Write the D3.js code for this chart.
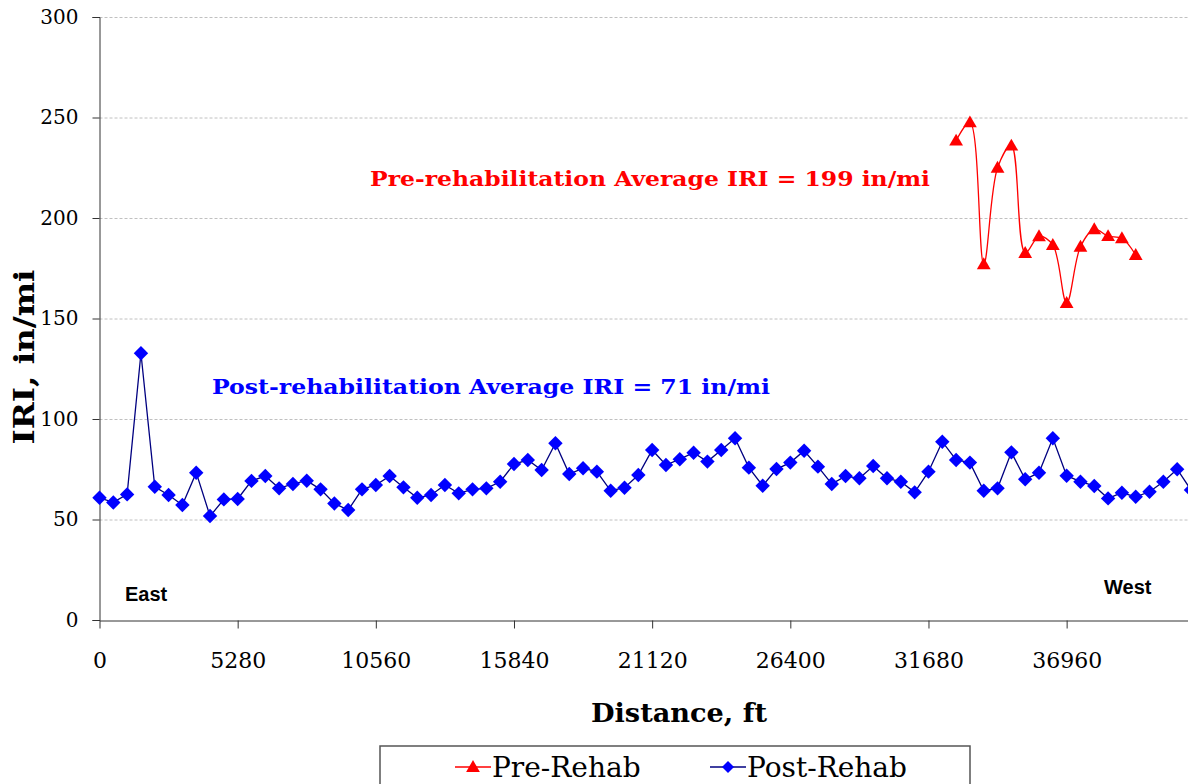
<!DOCTYPE html>
<html><head><meta charset="utf-8">
<script src="https://cdn.jsdelivr.net/npm/d3@7"></script>
<style>body{margin:0;background:#fff}svg{display:block}</style>
</head><body>
<script>
const spacing = 528; // ft between readings
const postRehab = [60.8,58.5,62.5,132.7,66.3,62.2,57.2,73.3,51.7,60,60.2,69.2,71.6,65.5,67.7,69.3,65,58,54.7,65,
  67.2,71.6,66,60.8,62.2,67.2,63,65,65.5,68.8,77.6,79.6,74.6,87.9,72.6,75.5,73.8,64.3,65.8,72.1,
  84.6,77.1,80,83.2,78.8,84.6,90.4,75.8,66.8,75.1,78.3,84.2,76.3,67.7,71.6,70.5,76.6,70.5,68.8,63.5,
  73.8,88.7,79.6,78.3,64.3,65.5,83.4,70,73.3,90.4,71.8,68.8,66.7,60.5,63.3,61.3,63.8,68.8,75,64.7];
const preStartIndex = 62;
const preRehab = [238.5,247.6,177,225,236,182.6,190.9,186.6,157.7,185.7,194.4,191,189.9,181.6];
const xTicks = [0,5280,10560,15840,21120,26400,31680,36960];
const yTicks = [0,50,100,150,200,250,300];

const postData = postRehab.map((v,i)=>({x:i*spacing,y:v}));
const preData = preRehab.map((v,i)=>({x:(preStartIndex+i)*spacing,y:v}));

const W=1188,H=784;
const svg=d3.select("body").append("svg").attr("width",W).attr("height",H);
const x=d3.scaleLinear().domain([0,42240]).range([99.5,1204.8]);
const y=d3.scaleLinear().domain([0,300]).range([620,17]);
const serif="'DejaVu Serif', serif";

// gridlines
svg.append("g").selectAll("line").data(yTicks.filter(d=>d>0)).join("line")
  .attr("x1",99.5).attr("x2",W).attr("y1",d=>y(d)+0.5).attr("y2",d=>y(d)+0.5)
  .attr("stroke","#c0c0c0").attr("stroke-dasharray","3,2").attr("stroke-width",1);

// y axis
const yAx=svg.append("g").attr("transform","translate(99.5,0)")
  .call(d3.axisLeft(y).tickValues(yTicks).tickSize(7).tickPadding(14));
yAx.selectAll("text").attr("font-family",serif).attr("font-size",20).attr("fill","#000");
yAx.selectAll("line,path").attr("stroke","#333");

// x axis
const xAx=svg.append("g").attr("transform","translate(0,620.5)")
  .call(d3.axisBottom(x).tickValues(xTicks).tickFormat(d3.format("d")).tickSize(8).tickPadding(24).tickSizeOuter(0));
xAx.selectAll("text").attr("font-family",serif).attr("font-size",22).attr("fill","#000");
xAx.selectAll("line,path").attr("stroke","#333");

// lines
svg.append("path").datum(postData)
  .attr("d",d3.line().x(d=>x(d.x)).y(d=>y(d.y)))
  .attr("fill","none").attr("stroke","#000080").attr("stroke-width",1.3);
svg.append("path").datum(preData)
  .attr("d",d3.line().x(d=>x(d.x)).y(d=>y(d.y)).curve(d3.curveCatmullRom.alpha(0.5)))
  .attr("fill","none").attr("stroke","#ff0000").attr("stroke-width",1.3);

const diamond=d3.symbol().type(d3.symbolSquare).size(104);
const tri=d3.symbol().type(d3.symbolTriangle).size(82);
svg.append("g").selectAll("path").data(postData).join("path")
  .attr("d",diamond).attr("transform",d=>`translate(${x(d.x)},${y(d.y)}) rotate(45)`).attr("fill","#0000ff");
svg.append("g").selectAll("path").data(preData).join("path")
  .attr("d",tri).attr("transform",d=>`translate(${x(d.x)},${y(d.y)+1})`).attr("fill","#ff0000");

// annotations
svg.append("text").attr("x",370).attr("y",186).attr("font-family",serif).attr("font-weight","bold")
  .attr("font-size",21).attr("fill","#ff0000").attr("textLength",560).attr("lengthAdjust","spacingAndGlyphs")
  .text("Pre-rehabilitation Average IRI = 199 in/mi");
svg.append("text").attr("x",212).attr("y",394).attr("font-family",serif).attr("font-weight","bold")
  .attr("font-size",21).attr("fill","#0000ff").attr("textLength",558).attr("lengthAdjust","spacingAndGlyphs")
  .text("Post-rehabilitation Average IRI = 71 in/mi");
svg.append("text").attr("x",125).attr("y",601).attr("font-family","'Liberation Sans',sans-serif").attr("font-weight","bold")
  .attr("font-size",20).text("East");
svg.append("text").attr("x",1104).attr("y",594).attr("font-family","'Liberation Sans',sans-serif").attr("font-weight","bold")
  .attr("font-size",20).text("West");

// axis titles
svg.append("text").attr("transform","translate(34,357) rotate(-90)").attr("text-anchor","middle")
  .attr("font-family",serif).attr("font-weight","bold").attr("font-size",27)
  .attr("textLength",175).attr("lengthAdjust","spacingAndGlyphs").text("IRI, in/mi");
svg.append("text").attr("x",679).attr("y",722).attr("text-anchor","middle")
  .attr("font-family",serif).attr("font-weight","bold").attr("font-size",26)
  .attr("textLength",176).attr("lengthAdjust","spacingAndGlyphs").text("Distance, ft");

// legend
const lg=svg.append("g");
lg.append("rect").attr("x",380).attr("y",746).attr("width",590).attr("height",60)
  .attr("fill","#fff").attr("stroke","#555").attr("stroke-width",1.5);
const items=[{name:"Pre-Rehab",color:"#ff0000",line:"#ff0000",sym:tri,x0:455,rot:0,dy:1},
             {name:"Post-Rehab",color:"#0000ff",line:"#000080",sym:d3.symbol().type(d3.symbolSquare).size(72),x0:710,rot:45,dy:0}];
items.forEach(it=>{
  lg.append("line").attr("x1",it.x0).attr("x2",it.x0+36).attr("y1",767).attr("y2",767).attr("stroke",it.line).attr("stroke-width",1.3);
  lg.append("path").attr("d",it.sym).attr("transform",`translate(${it.x0+18},${767+it.dy}) rotate(${it.rot})`).attr("fill",it.color);
  lg.append("text").attr("x",it.x0+37).attr("y",777).attr("font-family",serif).attr("font-size",28).text(it.name);
});
</script>
</body></html>
